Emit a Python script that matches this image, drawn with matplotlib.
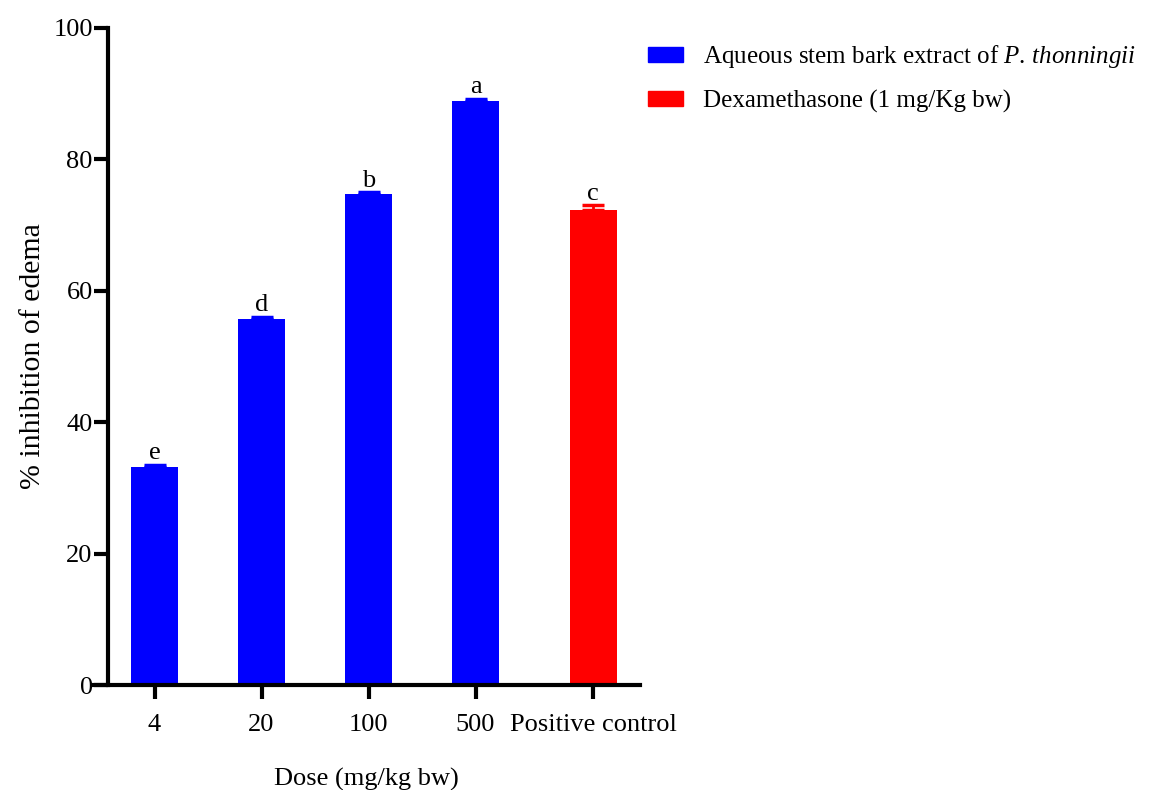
import matplotlib
matplotlib.use("Agg")
import matplotlib.pyplot as plt
from matplotlib.patches import Patch

plt.rcParams['font.family'] = ['Liberation Serif', 'DejaVu Serif']
plt.rcParams['mathtext.fontset'] = 'custom'
plt.rcParams['mathtext.rm'] = 'Liberation Serif'
plt.rcParams['mathtext.it'] = 'Liberation Serif:italic'

categories = ['4', '20', '100', '500', 'Positive control']
values = [33.2, 55.7, 74.7, 88.9, 72.3]
errors = [0.3, 0.3, 0.3, 0.3, 0.7]
letters = ['e', 'd', 'b', 'a', 'c']
colors = ['#0000FF', '#0000FF', '#0000FF', '#0000FF', '#FF0000']
positions = [0, 1, 2, 3, 4.1]
legend_labels = ['Aqueous stem bark extract of $\\it{P.\\,thonningii}$',
                 'Dexamethasone (1 mg/Kg bw)']

W, H = 1157, 790
fig = plt.figure(figsize=(W/100, H/100), dpi=100)
ax_left, ax_right = 93, 640
y0, y100 = 685, 28
ax = fig.add_axes([ax_left/W, 1 - y0/H, (ax_right-ax_left)/W, (y0-y100)/H])

ax.bar(positions, values, width=0.44, color=colors, zorder=2)
for p, v, e, c in zip(positions, values, errors, colors):
    ax.errorbar(p, v, yerr=[[0], [e]], ecolor=c, capsize=8, capthick=2.5,
                elinewidth=2, fmt='none', zorder=3)
for p, v, e, l in zip(positions, values, errors, letters):
    ax.text(p, v + e + 0.1, l, ha='center', va='bottom', fontsize=19)

unit = 107
xl = (ax_left - 154.5) / unit
xr = (ax_right - 154.5) / unit
ax.set_xlim(xl, xr)
ax.set_ylim(0, 100)

ax.spines['top'].set_visible(False)
ax.spines['right'].set_visible(False)
ax.spines['left'].set_position(('axes', (108 - ax_left) / (ax_right - ax_left)))
for s in ['left', 'bottom']:
    ax.spines[s].set_linewidth(3)

ax.set_xticks(positions)
ax.set_xticklabels(categories)
ax.set_yticks([0, 20, 40, 60, 80, 100])
ax.tick_params(axis='both', width=3, labelsize=19, length=10)
ax.tick_params(axis='x', pad=11)
ax.tick_params(axis='y', pad=1)

ax.set_ylabel('% inhibition of edema', fontsize=21.5, labelpad=5)
ax.set_xlabel('Dose (mg/kg bw)', fontsize=19, labelpad=23)

handles = [Patch(color='#0000FF'), Patch(color='#FF0000')]
fig.legend(handles, legend_labels, loc='upper left',
           bbox_to_anchor=(638/W, 1 - 33/H), frameon=False, fontsize=18,
           handlelength=1.4, handleheight=0.55, handletextpad=0.8,
           labelspacing=0.8, borderaxespad=0)

fig.savefig('out.png', dpi=100)
